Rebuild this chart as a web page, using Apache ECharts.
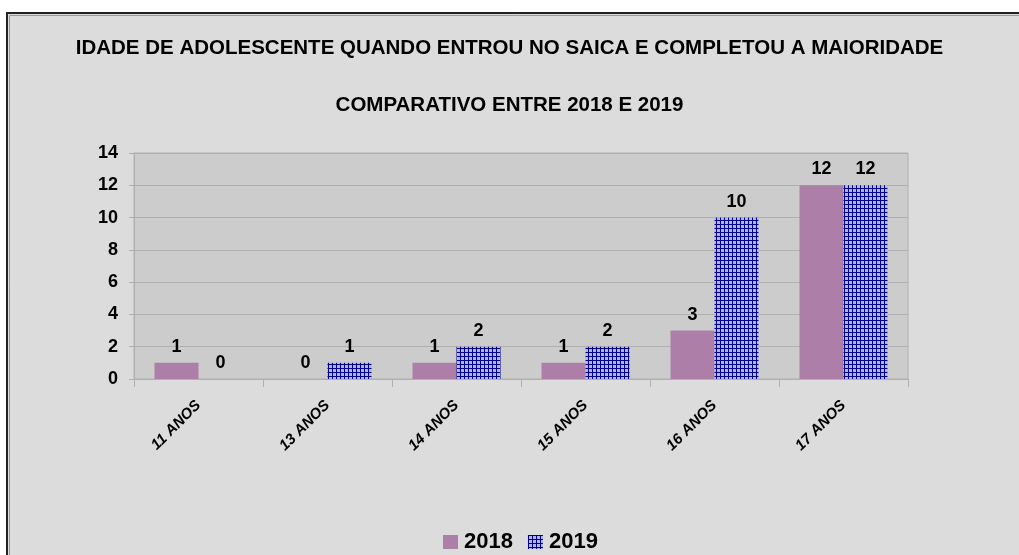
<!DOCTYPE html>
<html><head><meta charset="utf-8">
<script src="https://cdn.jsdelivr.net/npm/echarts@6/dist/echarts.min.js"></script>
<style>html,body{margin:0;padding:0;background:#fff}#c{width:1019px;height:555px}</style>
</head><body><div id="c"></div>
<script>
const categories = ['11 ANOS','13 ANOS','14 ANOS','15 ANOS','16 ANOS','17 ANOS'];
const series2018 = [1,0,1,1,3,12];
const series2019 = [0,1,2,2,10,12];
const seriesNames = ['2018','2019'];
const titleText = 'IDADE DE ADOLESCENTE QUANDO ENTROU NO SAICA E COMPLETOU A MAIORIDADE';
const subtitleText = 'COMPARATIVO ENTRE 2018 E 2019';

const cv = document.createElement('canvas');
cv.width = 4; cv.height = 4;
const g = cv.getContext('2d');
g.fillStyle = '#b4b4dc'; g.fillRect(0,0,4,4);
g.fillStyle = '#00008f'; g.fillRect(0,0,1,4); g.fillRect(0,0,4,1);

const font = '"Liberation Sans", Arial, sans-serif';
const chart = echarts.init(document.getElementById('c'), null, {renderer:'canvas'});
chart.setOption({
  animation:false,
  backgroundColor:'#ffffff',
  graphic:[
    {type:'rect', z:-10, shape:{x:7,y:13,width:1100,height:600}, style:{fill:'#dcdcdc', stroke:'#222', lineWidth:2}},
    {type:'rect', z:-9, shape:{x:9.5,y:15.5,width:1100,height:600}, style:{fill:'none', stroke:'#999', lineWidth:1}}
  ],
  title:[
    {text:titleText, left:'center', top:33, textStyle:{fontFamily:font, fontWeight:'bold', fontSize:20.5, color:'#000'}},
    {text:subtitleText, left:'center', top:90, textStyle:{fontFamily:font, fontWeight:'bold', fontSize:20.5, color:'#000'}}
  ],
  legend:{
    top:526, left:438, itemWidth:15, itemHeight:14, itemGap:15, icon:'rect',
    textStyle:{fontFamily:font, fontWeight:'bold', fontSize:22, color:'#000', padding:[0,0,0,1]},
    data:seriesNames
  },
  grid:{left:134, right:111, top:153, bottom:176, show:true, backgroundColor:'#cccccc', borderColor:'#b0b0b0', borderWidth:1},
  xAxis:{
    type:'category', data:categories,
    axisLine:{lineStyle:{color:'#b0b0b0'}},
    axisTick:{show:true, length:8, lineStyle:{color:'#b0b0b0'}},
    axisLabel:{rotate:45, margin:24, fontFamily:font, fontWeight:'bold', fontStyle:'italic', fontSize:15, color:'#000'}
  },
  yAxis:{
    type:'value', min:0, max:14, interval:2,
    axisLine:{show:true, lineStyle:{color:'#b0b0b0'}},
    axisTick:{show:true, length:5, lineStyle:{color:'#b0b0b0'}},
    splitLine:{lineStyle:{color:'#b0b0b0'}},
    axisLabel:{margin:16, fontFamily:font, fontWeight:'bold', fontSize:18, color:'#000'}
  },
  series:[
    {name:seriesNames[0], type:'bar', data:series2018, barWidth:44, barGap:'0%',
     itemStyle:{color:'#ad7fa8'},
     label:{show:true, position:'top', distance:7, fontFamily:font, fontWeight:'bold', fontSize:18, color:'#000'}},
    {name:seriesNames[1], type:'bar', data:series2019, barWidth:44, barGap:'0%',
     itemStyle:{color:{image:cv, repeat:'repeat'}},
     label:{show:true, position:'top', distance:7, fontFamily:font, fontWeight:'bold', fontSize:18, color:'#000'}}
  ]
});
</script></body></html>
